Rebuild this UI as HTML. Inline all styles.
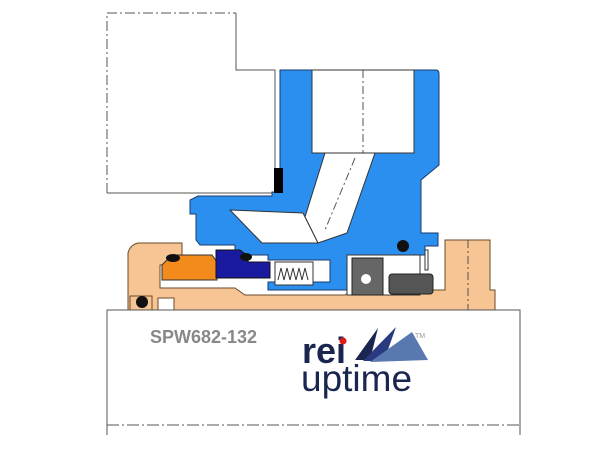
<!DOCTYPE html>
<html><head><style>html,body{margin:0;padding:0;background:#fff;width:600px;height:450px;overflow:hidden}</style></head>
<body>
<svg width="600" height="450" viewBox="0 0 600 450" xmlns="http://www.w3.org/2000/svg">
<g fill="none" stroke="#555" stroke-width="1">
<path d="M107,193 V13 H236" stroke-dasharray="10,3,2,3"/>
<path d="M236,13 V70 H275 V193 H107"/>
</g>
<path d="M280,70 H436 Q439,70 439,74 V165 L421,180 V233 H438 V246 H425 V255 H420 V290 H268 V282 H330 V260 H268 V255 H235 V245 H200 L196,240 V214 H190 V200 L198,196 H272 V192 H280 Z" fill="#2b8ff0" stroke="#1a3a6a" stroke-width="1"/>
<rect x="274" y="168" width="9" height="25" fill="#000"/>
<rect x="312" y="70" width="102" height="83" fill="#fff" stroke="#333"/>
<line x1="363" y1="70" x2="363" y2="153" stroke="#555" stroke-dasharray="8,3,2,3"/>
<path d="M325,153 L375,153 L347,233 L318,243 L305,217 Z" fill="#fff" stroke="#333"/>
<path d="M230,210 L303,213 L318,243 L262,243 Z" fill="#fff" stroke="#333"/>
<path d="M355,158 L325,230" stroke="#555" stroke-dasharray="8,3,2,3"/>
<path d="M128,253 Q130,245 138,243 H182 V265 H160 V288 H235 L245,295 H345 L352,290 H445 V240 H490 V290 H495 V310 H128 Z" fill="#f7c493" stroke="#6a4a2a" stroke-width="1"/>
<rect x="130" y="296" width="22" height="14" fill="#f7c493" stroke="#6a4a2a"/>
<circle cx="142" cy="302" r="6" fill="#111"/>
<rect x="158" y="298" width="16" height="12" fill="#fff" stroke="#6a4a2a"/>
<path d="M162,265 L172,255 H212 L217,262 V280 H162 Z" fill="#f28a1c" stroke="#333"/>
<ellipse cx="173" cy="258" rx="7" ry="4" fill="#111"/>
<path d="M216,250 H240 L248,256 V262 H270 V278 H216 Z" fill="#1a1aa0" stroke="#111"/>
<ellipse cx="246" cy="257" rx="6" ry="4" fill="#111"/>
<rect x="275" y="262" width="38" height="23" fill="#fff" stroke="#333"/>
<path d="M278,280 l3,-12 l3,12 l3,-12 l3,12 l3,-12 l3,12 l3,-12 l3,12 l3,-12 l3,12" fill="none" stroke="#333"/>
<rect x="347" y="255" width="73" height="40" fill="#fff" stroke="#333"/>
<rect x="352" y="258" width="31" height="37" fill="#666" stroke="#222"/>
<circle cx="366" cy="279" r="5" fill="#fff"/>
<rect x="389" y="274" width="44" height="20" rx="3" fill="#555" stroke="#222"/>
<circle cx="403" cy="246" r="6" fill="#111"/>
<rect x="425" y="250" width="3" height="20" fill="#fff" stroke="#333"/>
<g fill="none" stroke="#555">
<path d="M107,435 V310 H520 V435"/>
<path d="M107,425 H520" stroke-dasharray="12,3,2,3"/>
<path d="M468,240 V310" stroke-dasharray="8,3,2,3"/>
</g>
<text x="150" y="343" font-family="Liberation Sans, sans-serif" font-weight="bold" font-size="18" fill="#888">SPW682-132</text>
<text x="302" y="363" font-family="Liberation Sans, sans-serif" font-weight="bold" font-size="36" fill="#1a2550">rei</text>
<circle cx="343" cy="341" r="3.5" fill="#e01a1a"/>
<text x="301" y="391" font-family="Liberation Sans, sans-serif" font-size="37" fill="#1a2550">uptime</text>
<path d="M355,360 L378,328 L370,360 Z" fill="#1a2550"/>
<path d="M363,361 L396,327 L384,361 Z" fill="#2a3a80"/>
<path d="M370,362 L412,332 L428,360 Z" fill="#5a78b0"/>
<text x="415" y="338" font-family="Liberation Sans, sans-serif" font-size="7" fill="#999">TM</text>
</svg>
</body></html>
